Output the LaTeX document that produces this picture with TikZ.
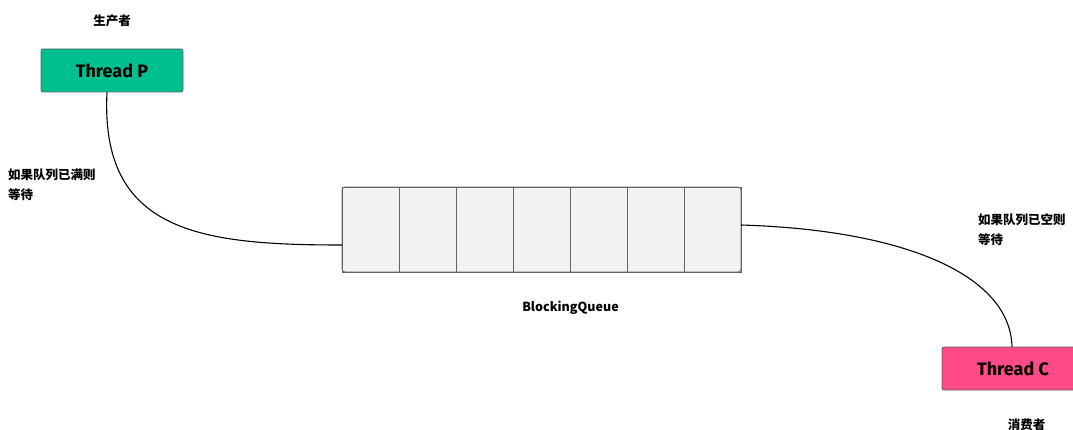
\documentclass[tikz,border=0pt]{standalone}
\usepackage{fontspec}
\setmainfont{Fira Sans}
\newfontfamily\cjk{Noto Sans CJK SC}
\usetikzlibrary{positioning, fit, backgrounds}
\definecolor{linegray}{RGB}{100, 100, 100}
\definecolor{pgreen}{RGB}{0, 191, 143}
\definecolor{cpink}{RGB}{255, 75, 135}
\definecolor{cellfill}{RGB}{242, 242, 242}

\begin{document}
\begin{tikzpicture}[x=1pt, y=1pt,
            thread/.style={draw=linegray, thick, rounded corners=2pt, minimum width=142pt, minimum height=43pt, align=center, font=\fontsize{18}{20}\selectfont\bfseries},
            cell/.style={draw=linegray, thick, fill=cellfill, minimum width=57pt, minimum height=85pt, inner sep=0pt, outer sep=0pt},
            note/.style={align=left, font=\cjk\fontsize{12.5}{20}\selectfont\bfseries, inner sep=0pt},
            link/.style={line width=1.1pt, black}
        ]
            \useasboundingbox (0,0) rectangle (1073,-430);

            \node[thread, fill=pgreen] (tp) at (112,-70.5) {Thread P};
            \node[note, above=22pt of tp] (producer) {生产者};
            \node[thread, fill=cpink] (tc) at (1013,-368.5) {Thread C};
            \node[note, below=28pt of tc.south west, xshift=85pt] (consumer) {消费者};

            % queue cells
            \node[cell] (c1) at (370.5,-229.5) {};
            \node[cell, right=0pt of c1] (c2) {};
            \node[cell, right=0pt of c2] (c3) {};
            \node[cell, right=0pt of c3] (c4) {};
            \node[cell, right=0pt of c4] (c5) {};
            \node[cell, right=0pt of c5] (c6) {};
            \node[cell, right=0pt of c6] (c7) {};
            \node[fit=(c1)(c7), draw=linegray, thick, rounded corners=3pt, inner sep=0pt] (queue) {};
            \node[note, below=29pt of queue, xshift=29pt] (qname) {BlockingQueue};

            \node[note, anchor=north west] (fullnote) at (8,-169) {如果队列已满则\\等待};
            \node[note, anchor=north west] (emptynote) at (978,-213) {如果队列已空则\\等待};

            \draw[link] ([xshift=-5pt]tp.south) .. controls (100,-232) and (200,-245) .. ([yshift=-15.5pt]c1.west);
            \draw[link] ([yshift=4.5pt]c7.east) .. controls (905,-230) and (1010,-275) .. ([xshift=-1pt]tc.north);
        \end{tikzpicture}
\end{document}
